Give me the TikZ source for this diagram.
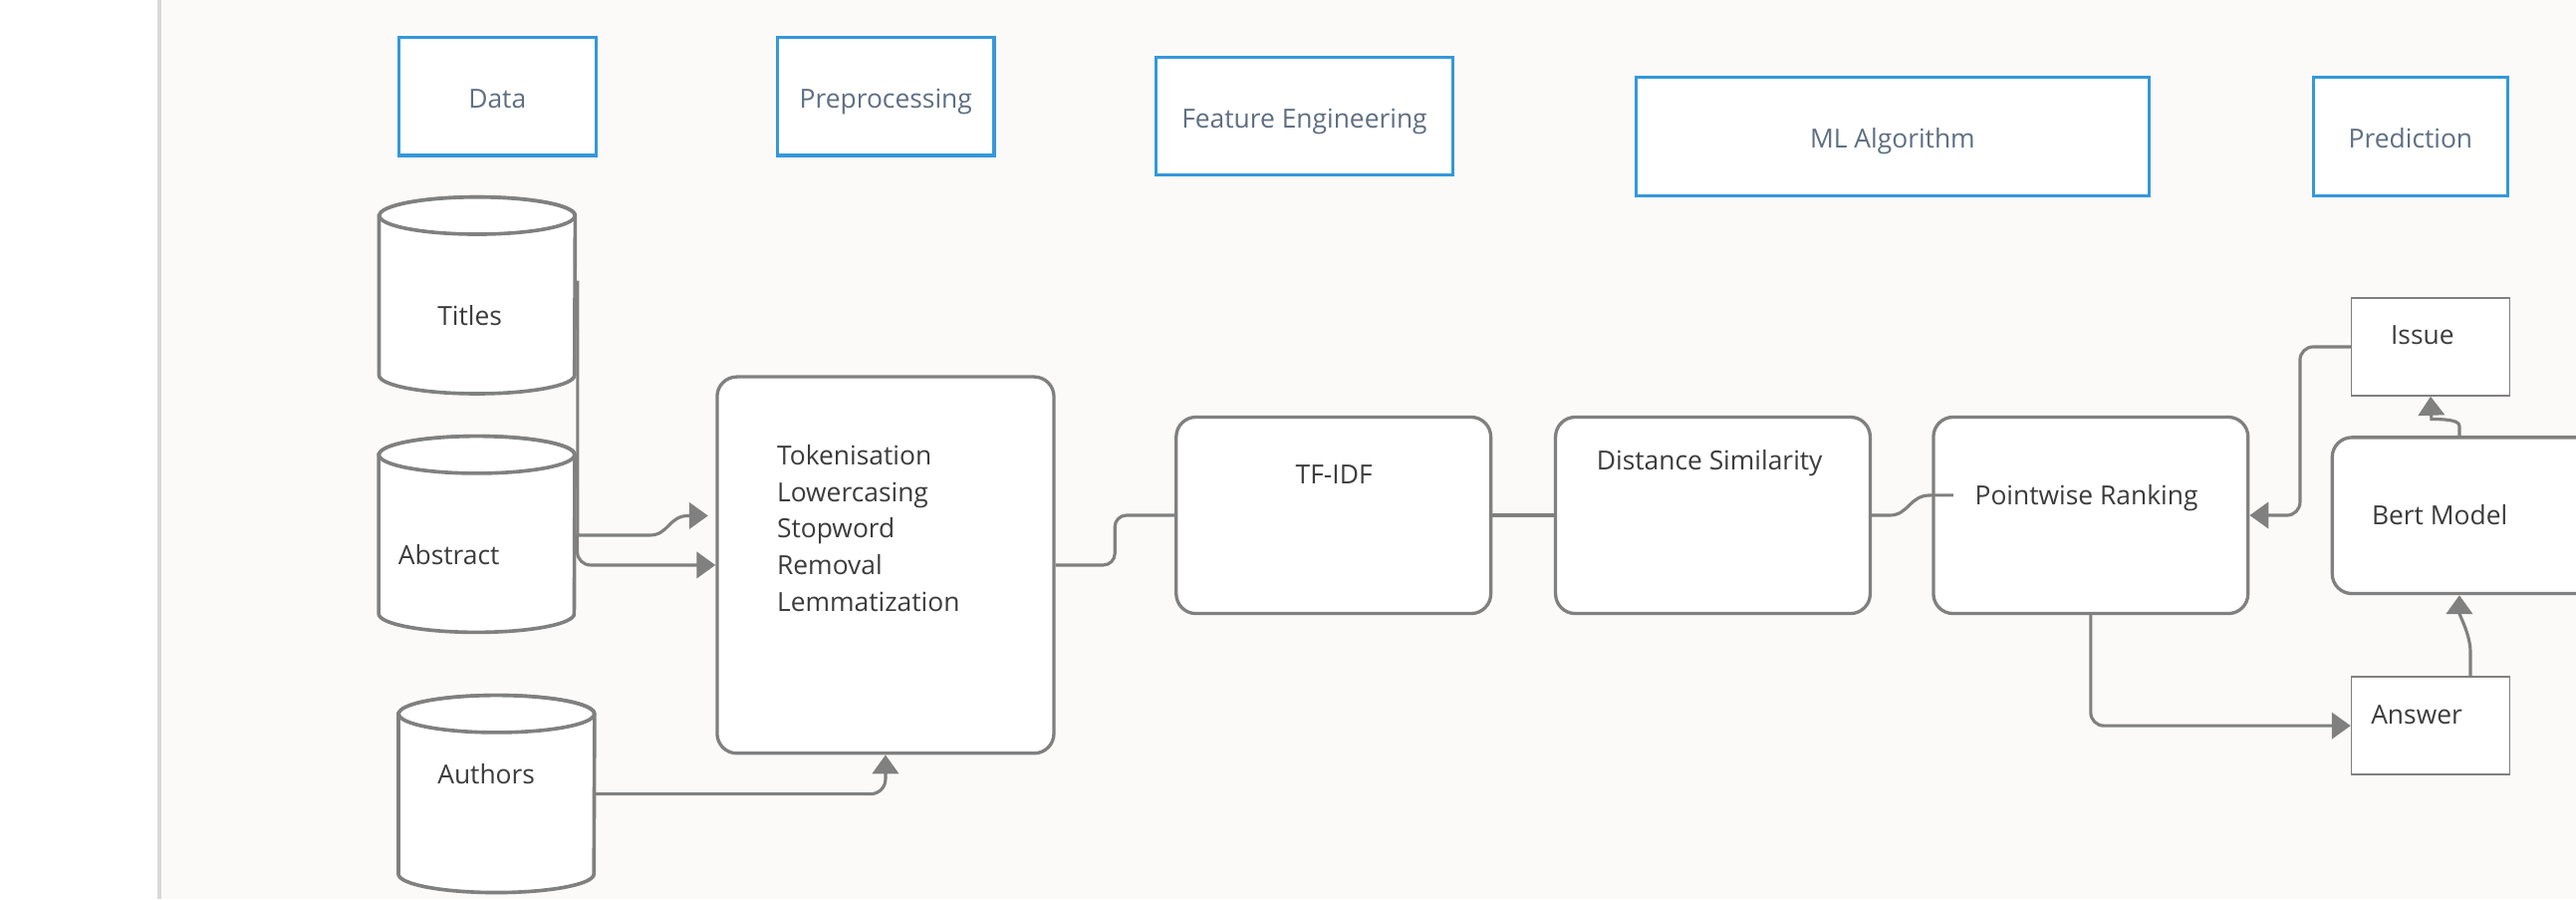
\documentclass[tikz,border=0pt]{standalone}
\usepackage{fontspec}
\setmainfont{Open Sans}
\usetikzlibrary{positioning,arrows.meta}

\definecolor{headblue}{HTML}{3498DB}
\definecolor{headtext}{HTML}{5F6F82}
\definecolor{linegray}{HTML}{808080}
\definecolor{bodytext}{HTML}{3C3C3C}
\definecolor{paper}{HTML}{FBFAF8}
\definecolor{rulegray}{HTML}{D9D9D9}

\begin{document}
\begin{tikzpicture}[x=1pt,y=1pt,font=\fontsize{16}{22.25}\selectfont,
	head/.style={draw=headblue, line width=2pt, fill=white, inner sep=0pt, text=headtext, text height=14.2pt, text depth=0pt},
	proc/.style={draw=linegray, line width=2pt, fill=white, rounded corners=12pt, inner sep=0pt},
	plain/.style={draw=linegray, line width=0.9pt, fill=white, inner sep=0pt},
	cylbody/.style={inner sep=0pt, minimum width=119pt},
	cyl/.style={draw=linegray, line width=2.2pt, fill=white},
	lbl/.style={inner sep=0pt, anchor=base, text=bodytext},
	conn/.style={draw=linegray, line width=1.9pt},
	arr/.style={conn, -{Triangle[length=11.5pt,width=16pt]}}]

	\useasboundingbox (0,0) rectangle (1568,-547);
	\clip (0,0) rectangle (1568,-547);
	% Page
	\fill[white] (0,0) rectangle (97,-547);
	\fill[paper] (97,0) rectangle (1568,-547);
	\draw[rulegray, line width=2.5pt] (97,0) -- (97,-547);

	% Stage headers
	\node[head, minimum width=120pt, minimum height=72pt] (hdata) at (302.7,-58.6) {Data};
	\node[head, minimum width=132pt, minimum height=72pt] (hprep) at (539.2,-58.6) {Preprocessing};
	\node[head, minimum width=180.5pt, minimum height=71.5pt] (hfeat) at (794,-70.75) {Feature Engineering};
	\node[head, minimum width=312.5pt, minimum height=72pt] (hml) at (1152,-83) {ML Algorithm};
	\node[head, minimum width=118.5pt, minimum height=72pt] (hpred) at (1467.3,-83) {Prediction};

	% Data sources
	\node[cylbody, minimum height=96.6pt] (titles) at (290.4,-179.7) {};
	\node[cylbody, minimum height=96.3pt] (abstract) at (290.2,-325) {};
	\node[cylbody, minimum height=97pt] (authors) at (302.2,-483) {};
	\foreach \c in {titles,abstract,authors}{
		\draw[cyl] (\c.north west) -- (\c.south west) arc[start angle=180,end angle=360,x radius=59.5pt,y radius=11.3pt] -- (\c.north east) arc[start angle=0,end angle=180,x radius=59.5pt,y radius=11.3pt] -- cycle;
		\draw[cyl] (\c.north) ellipse[x radius=59.5pt,y radius=11.3pt];
	}
	\node[lbl] (titlestxt) at (286,-197.7) {Titles};
	\node[lbl, anchor=base west] (abstracttxt) at (242.3,-343.3) {Abstract};
	\node[lbl] (authorstxt) at (296,-476.6) {Authors};

	% Processing steps
	\node[proc, minimum width=205pt, minimum height=229pt] (prep) at (539,-343.75) {};
	\node[proc, minimum width=191.5pt, minimum height=119.5pt] (tfidf) at (811.7,-313.5) {};
	\node[proc, minimum width=191.5pt, minimum height=119.5pt] (dist) at (1042.6,-313.5) {};
	\node[proc, minimum width=191.5pt, minimum height=119.5pt] (rank) at (1272.6,-313.5) {};
	\node[proc, minimum width=192pt, minimum height=95pt] (bert) at (1515.6,-313.6) {};
	\node[plain, minimum width=96.5pt, minimum height=59.5pt] (issue) at (1479.5,-211) {};
	\node[plain, minimum width=96.5pt, minimum height=59.5pt] (answer) at (1479.5,-441.5) {};

	\node[lbl, anchor=west, align=left] (preptxt) at (472.8,-321.4) {Tokenisation\\Lowercasing\\Stopword\\Removal\\Lemmatization};
	\node[lbl] (tfidftxt) at (812,-294.1) {TF-IDF};
	\node[lbl] (disttxt) at (1040.6,-286) {Distance Similarity};
	\node[lbl] (ranktxt) at (1270,-306.9) {Pointwise Ranking};
	\node[lbl] (berttxt) at (1485,-319) {Bert Model};
	\node[lbl] (issuetxt) at (1474.5,-209.5) {Issue};
	\node[lbl] (answertxt) at (1471,-440.3) {Answer};

	% Connectors
	\coordinate (rankin) at (1189,-301.3);
	\draw[arr, shorten >=4.5pt] ([xshift=1.5pt,yshift=9pt]titles.east) |- (395.5,-325.6) .. controls (407,-325.6) and (407,-313.75) .. (419,-313.75) -- ([yshift=30pt]prep.west);
	\draw[arr, rounded corners=8pt] ([xshift=1.5pt]abstract.east) |- (prep.west);
	\draw[arr, rounded corners=9pt] (authors.east) -| (prep.south);
	\draw[conn, rounded corners=7pt] (prep.east) -- (678.6,-343.75) -- (678.6,-313.5) -- (tfidf.west);
	\draw[conn] (tfidf.east) -- (dist.west);
	\draw[conn] (dist.east) -- (1150,-313.5) .. controls (1162,-313.5) and (1162,-301.3) .. (1175,-301.3) -- (rankin);
	\draw[arr, rounded corners=8pt] (issue.west) -- (1400,-211) -- (1400,-313.5) -- (rank.east);
	\draw[arr, rounded corners=8pt] (rank.south) |- (answer.west);
	\draw[arr] ([xshift=24.2pt]answer.north) -- ++(0,15) .. controls +(0,10) and +(0,-12) .. ([xshift=-18.6pt]bert.south);
	\draw[arr] ([xshift=-18.6pt]bert.north) -- ++(0,6) .. controls +(0,4) and +(6,0) .. (1480,-255) -- (issue.south);
\end{tikzpicture}
\end{document}
